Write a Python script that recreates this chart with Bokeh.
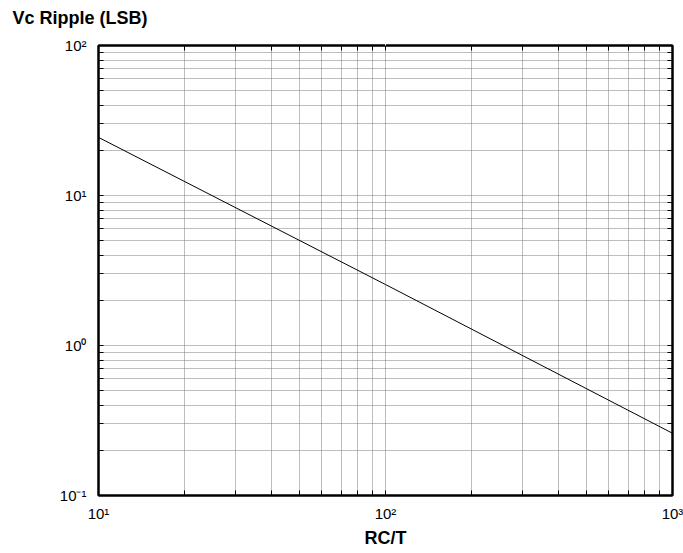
from bokeh.plotting import figure
from bokeh.models import LogAxis, FixedTicker, Title
from bokeh.embed import file_html
from bokeh.resources import INLINE

# data (log-log straight line)
rc_over_t = [10, 100, 1000]
ripple_lsb = [24.4, 2.55, 0.26]

x_tick_values = [10, 100, 1000]
x_tick_labels = ["10\u00b9", "10\u00b2", "10\u00b3"]
y_tick_values = [0.1, 1, 10, 100]
y_tick_labels = ["10\u207b\u00b9", "10\u2070", "10\u00b9", "10\u00b2"]

FONT = "Liberation Sans"

def minors(decades):
    out = []
    for d in decades[:-1]:
        for m in range(2, 10):
            out.append(d * m)
    return out

x_minor = minors(x_tick_values)
y_minor = minors(y_tick_values)

p = figure(width=683, height=553, x_axis_type="log", y_axis_type="log",
           x_range=(10, 1000), y_range=(0.1, 100),
           output_backend="svg", toolbar_location=None,
           min_border_left=98, min_border_right=11,
           min_border_top=5, min_border_bottom=58,
           background_fill_color="white", border_fill_color="white")

p.outline_line_color = "black"
p.outline_line_width = 2

p.xaxis[0].ticker = FixedTicker(ticks=x_tick_values, minor_ticks=x_minor)
p.yaxis[0].ticker = FixedTicker(ticks=y_tick_values, minor_ticks=y_minor)

# grid
for g in (p.xgrid, p.ygrid):
    g.grid_line_color = "#7a7a7a"
    g.grid_line_dash = "1 1"
    g.grid_line_width = 1
    g.minor_grid_line_color = "#7a7a7a"
    g.minor_grid_line_dash = "1 1"
    g.minor_grid_line_width = 1

def style_axis(ax):
    ax.axis_line_color = "black"
    ax.axis_line_width = 2
    ax.major_tick_in = 5
    ax.major_tick_out = 0
    ax.minor_tick_in = 5
    ax.minor_tick_out = 0
    ax.major_tick_line_color = "black"
    ax.minor_tick_line_color = "black"
    ax.major_label_text_font = FONT
    ax.major_label_text_color = "black"
    ax.major_label_text_font_size = "15px"

xa = p.xaxis[0]
ya = p.yaxis[0]
style_axis(xa)
style_axis(ya)
xa.major_label_overrides = {float(v): t for v, t in zip(x_tick_values, x_tick_labels)}
ya.major_label_overrides = {float(v): t for v, t in zip(y_tick_values, y_tick_labels)}
xa.major_label_standoff = 9
ya.major_label_standoff = 12
xa.axis_label = "RC/T"
xa.axis_label_text_font = FONT
xa.axis_label_text_font_style = "bold"
xa.axis_label_text_font_size = "18px"
xa.axis_label_text_color = "black"
xa.axis_label_standoff = 3

# tick marks on top and right (no labels): all ticks given as minor ticks
top_ax = LogAxis(ticker=FixedTicker(ticks=[], minor_ticks=x_tick_values + x_minor))
right_ax = LogAxis(ticker=FixedTicker(ticks=[], minor_ticks=y_tick_values + y_minor))
style_axis(top_ax)
style_axis(right_ax)
p.add_layout(top_ax, "above")
p.add_layout(right_ax, "right")

# blank spacer axis between title and frame (white tick on white border)
spacer = LogAxis(ticker=FixedTicker(ticks=[], minor_ticks=[x_tick_values[1]]))
spacer.axis_line_color = None
spacer.major_tick_line_color = None
spacer.minor_tick_line_color = "white"
spacer.major_tick_out = 0
spacer.major_tick_in = 0
spacer.minor_tick_out = 13
spacer.minor_tick_in = 0
p.add_layout(spacer, "above")

p.title = Title(text="Vc Ripple (LSB)", text_font=FONT, text_font_style="bold",
                text_font_size="18px", text_color="black", align="left",
                offset=-86)

p.line(rc_over_t, ripple_lsb, line_color="black", line_width=1)

open("out.html", "w").write(file_html(p, INLINE))
